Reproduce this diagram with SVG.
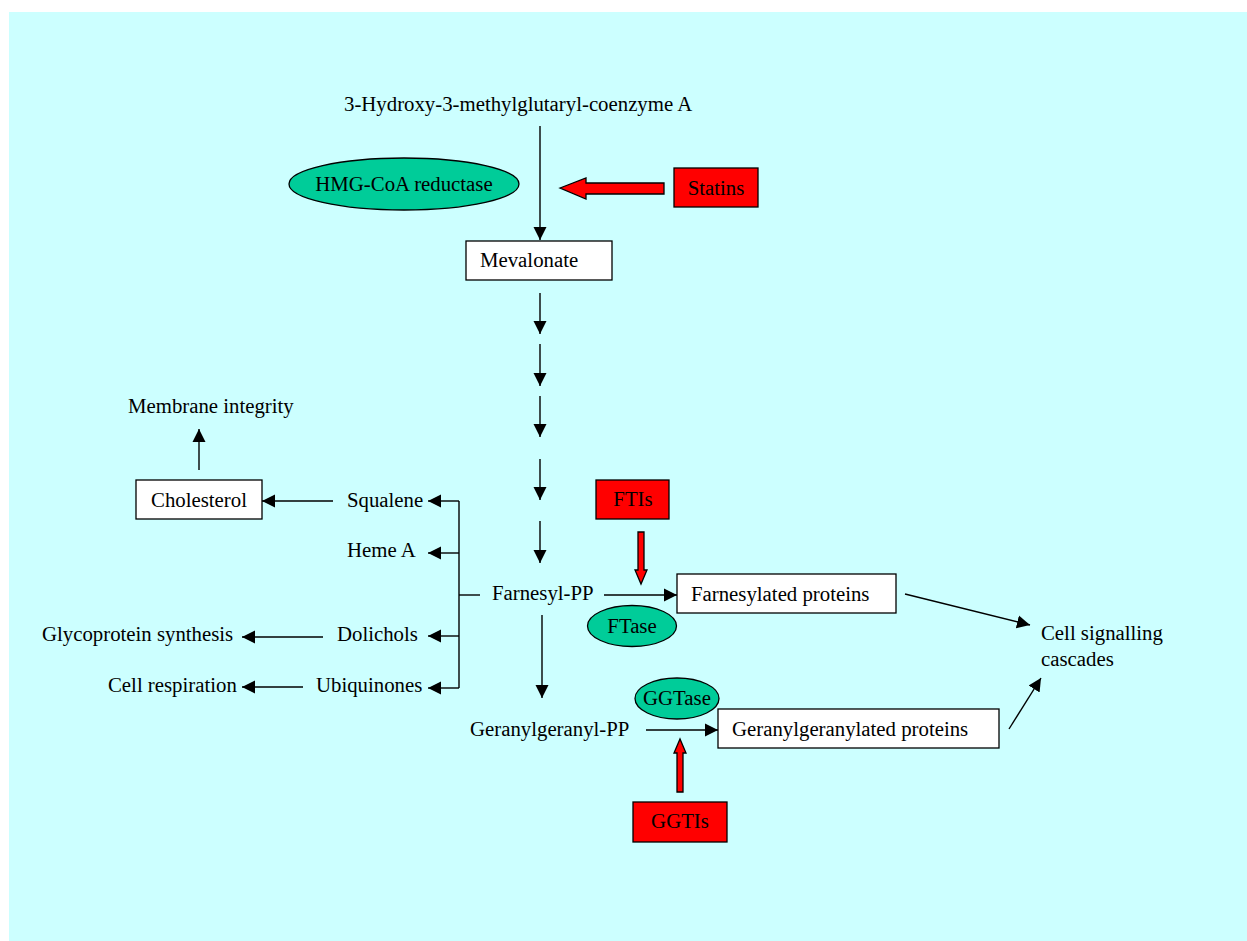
<svg xmlns="http://www.w3.org/2000/svg" width="1247" height="941" viewBox="0 0 1247 941">
<style>
text{font-family:"Liberation Serif","Times New Roman",serif;font-size:20.8px;fill:#000}
.box{fill:#fff;stroke:#000;stroke-width:1.3}
.enz{fill:#00CC99;stroke:#000;stroke-width:1.3}
.inh{fill:#FF0000;stroke:#000;stroke-width:1.3}
.c line,.c polyline{stroke:#000;stroke-width:1.4;fill:none}
.c .a{marker-end:url(#ah)}
</style>
<defs>
<marker id="ah" markerUnits="userSpaceOnUse" markerWidth="14" markerHeight="14" refX="13" refY="6.5" orient="auto" viewBox="0 0 14 13">
<path d="M0,0 L13,6.5 L0,13 z" fill="#000"/>
</marker>
</defs>
<rect x="9" y="12" width="1238" height="929" fill="#CCFFFF"/>

<g id="hmgcoa"><text x="344" y="111">3-Hydroxy-3-methylglutaryl-coenzyme A</text></g>
<g id="hmgcoa-reductase"><ellipse class="enz" cx="404" cy="184" rx="115" ry="26"/><text x="404" y="191" text-anchor="middle">HMG-CoA reductase</text></g>
<g id="statins"><rect class="inh" x="674" y="168" width="84" height="39"/><text x="716" y="195" text-anchor="middle">Statins</text></g>
<g id="mevalonate"><rect class="box" x="466" y="241" width="146" height="39"/><text x="480" y="267">Mevalonate</text></g>
<g id="membrane"><text x="128" y="413">Membrane integrity</text></g>
<g id="cholesterol"><rect class="box" x="136" y="480" width="126" height="39"/><text x="199" y="507" text-anchor="middle">Cholesterol</text></g>
<g id="squalene"><text x="347" y="507">Squalene</text></g>
<g id="hemea"><text x="347" y="557">Heme A</text></g>
<g id="dolichols"><text x="337" y="641">Dolichols</text></g>
<g id="ubiquinones"><text x="316" y="692">Ubiquinones</text></g>
<g id="glyco"><text x="42" y="641">Glycoprotein synthesis</text></g>
<g id="respiration"><text x="108" y="692">Cell respiration</text></g>
<g id="farnesylpp"><text x="492" y="600">Farnesyl-PP</text></g>
<g id="ftis"><rect class="inh" x="596" y="480" width="73" height="39"/><text x="633" y="506" text-anchor="middle">FTIs</text></g>
<g id="ftase"><ellipse class="enz" cx="632" cy="626" rx="44.5" ry="20.5"/><text x="632" y="633" text-anchor="middle">FTase</text></g>
<g id="farnesylated"><rect class="box" x="677" y="574" width="219" height="39"/><text x="691" y="601">Farnesylated proteins</text></g>
<g id="ggpp"><text x="470" y="736">Geranylgeranyl-PP</text></g>
<g id="ggtase"><ellipse class="enz" cx="677" cy="698.5" rx="42" ry="20.5"/><text x="677" y="705" text-anchor="middle">GGTase</text></g>
<g id="ggproteins"><rect class="box" x="718" y="709" width="281" height="39"/><text x="732" y="736">Geranylgeranylated proteins</text></g>
<g id="ggtis"><rect class="inh" x="633" y="802" width="94" height="40"/><text x="680" y="828" text-anchor="middle">GGTIs</text></g>
<g id="signalling"><text x="1041" y="640">Cell signalling</text><text x="1041" y="666">cascades</text></g>

<g id="connectors" class="c">
<line class="a" x1="540" y1="126" x2="540" y2="240"/>
<line class="a" x1="540" y1="293" x2="540" y2="334"/>
<line class="a" x1="540" y1="344" x2="540" y2="386"/>
<line class="a" x1="540" y1="396" x2="540" y2="437"/>
<line class="a" x1="540" y1="459" x2="540" y2="500"/>
<line class="a" x1="540" y1="521" x2="540" y2="563"/>
<line class="a" x1="604" y1="595" x2="677" y2="595"/>
<line x1="459" y1="595" x2="480" y2="595"/>
<line x1="459" y1="501" x2="459" y2="688"/>
<line class="a" x1="459" y1="501" x2="428" y2="501"/>
<line class="a" x1="459" y1="553" x2="428" y2="553"/>
<line class="a" x1="459" y1="636" x2="428" y2="636"/>
<line class="a" x1="459" y1="688" x2="428" y2="688"/>
<line class="a" x1="542" y1="615" x2="542" y2="698"/>
<line class="a" x1="333" y1="501" x2="262" y2="501"/>
<line class="a" x1="199" y1="470" x2="199" y2="429"/>
<line class="a" x1="323" y1="637" x2="242" y2="637"/>
<line class="a" x1="303" y1="687" x2="242" y2="687"/>
<line class="a" x1="646" y1="730" x2="718" y2="730"/>
<line class="a" x1="905" y1="594" x2="1030" y2="625"/>
<line class="a" x1="1009" y1="729" x2="1041" y2="678"/>
<polygon class="inh" points="560,188 586,178 586,183 664,183 664,194 586,194 586,199"/>
<polygon class="inh" points="638,532 644,532 644,570 647,570 641,584 635,570 638,570"/>
<polygon class="inh" points="677,792 683,792 683,753 686,753 680,739 674,753 677,753"/>
</g>
</svg>
